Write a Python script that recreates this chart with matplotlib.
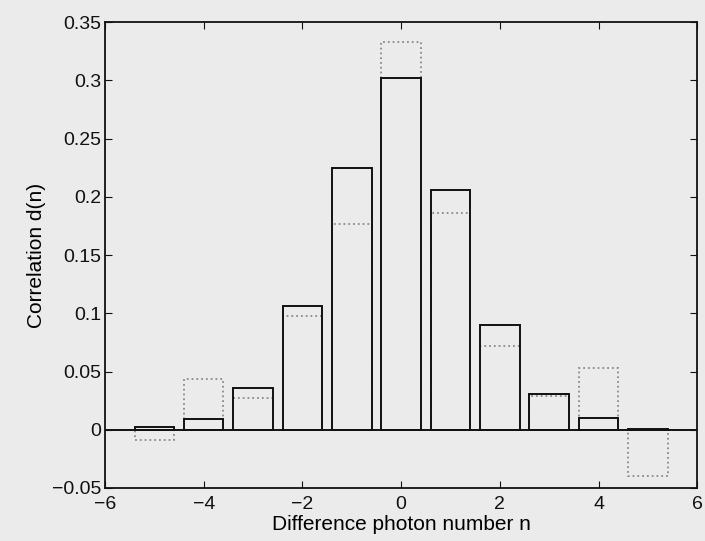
import matplotlib.pyplot as plt

# diferencia en numero de fotones
n = [-5, -4, -3, -2, -1, 0, 1, 2, 3, 4, 5]
# correlacion medida (barras solidas)
d_medida = [0.002, 0.009, 0.036, 0.106, 0.225, 0.302, 0.206, 0.090, 0.031, 0.010, 0.001]
# correlacion teorica (barras punteadas)
d_teoria = [-0.009, 0.044, 0.027, 0.098, 0.177, 0.333, 0.186, 0.072, 0.029, 0.053, -0.040]

plt.rcParams['font.family'] = ['Liberation Sans', 'DejaVu Sans']

fig = plt.figure(figsize=(7.05, 5.41), dpi=100)
fig.patch.set_facecolor('#ebebeb')
ax = fig.add_axes([0.149, 0.098, 0.840, 0.861])
ax.set_facecolor('#ebebeb')

ax.bar(n, d_teoria, width=0.8, fill=False, edgecolor='#8a8a8a',
       linestyle=':', linewidth=1.3)
ax.bar(n, d_medida, width=0.8, fill=False, edgecolor='#111111',
       linewidth=1.4)
ax.axhline(0, color='#111111', linewidth=1.4)

ax.set_xlim(-6, 6)
ax.set_ylim(-0.05, 0.35)
ax.set_xticks([-6, -4, -2, 0, 2, 4, 6])
ax.set_xticklabels(['\u22126', '\u22124', '\u22122', '0', '2', '4', '6'])
ax.set_yticks([-0.05, 0, 0.05, 0.1, 0.15, 0.2, 0.25, 0.3, 0.35])
ax.set_yticklabels(['\u22120.05', '0', '0.05', '0.1', '0.15', '0.2', '0.25', '0.3', '0.35'])
ax.tick_params(direction='in', top=True, right=True, length=5, labelsize=14,
               colors='#111111')
ax.tick_params(axis='y', pad=3)
ax.tick_params(axis='x', pad=6)
for s in ax.spines.values():
    s.set_linewidth(1.3)
    s.set_color('#111111')

ax.set_xlabel('Difference photon number n', fontsize=15, labelpad=1)
ax.set_ylabel('Correlation d(n)', fontsize=15, labelpad=4)

fig.savefig('out.png', dpi=100, facecolor=fig.get_facecolor())
